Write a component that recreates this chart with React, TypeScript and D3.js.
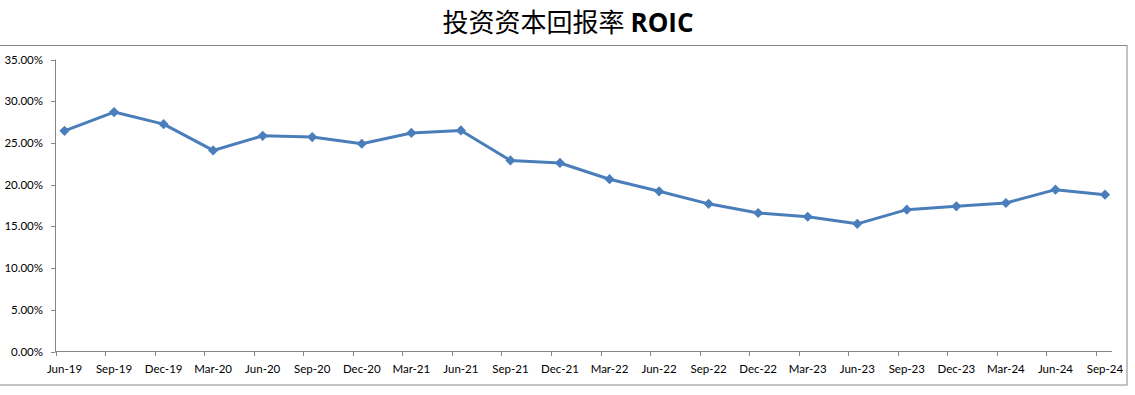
import React from "react";
import * as d3 from "d3";

const categories = ["Jun-19","Sep-19","Dec-19","Mar-20","Jun-20","Sep-20","Dec-20","Mar-21","Jun-21","Sep-21","Dec-21","Mar-22","Jun-22","Sep-22","Dec-22","Mar-23","Jun-23","Sep-23","Dec-23","Mar-24","Jun-24","Sep-24"];
const roic = [26.45,28.7,27.25,24.1,25.85,25.7,24.9,26.2,26.5,22.9,22.6,20.65,19.2,17.7,16.6,16.15,15.3,17.0,17.4,17.8,19.4,18.8];
const yTicks = [0,5,10,15,20,25,30,35];
const title = "投资资本回报率";
const titleLatin = "ROIC";

const W = 1135, H = 395;
const font = "Lato, 'Open Sans', sans-serif";

export default function App() {
  const y = d3.scaleLinear().domain([0, 35]).range([351.5, 59.5]);
  const x = d3.scalePoint<string>().domain(categories).range([64.5, 1105]);
  const tickOffset = -9;
  const line = d3.line<number>().x((_, i) => x(categories[i])!).y(d => y(d));
  const diamond = d3.symbol().type(d3.symbolSquare).size(52)();
  const fmt = (v: number) => v.toFixed(2) + "%";
  const axisColor = "#868686";
  const blue = "#4a7ebb";
  return (
    <svg width={W} height={H} style={{ position: "absolute", left: 0, top: 0, background: "#fff" }}>
      <rect x={-2} y={45.5} width={1129} height={339.5} fill="none" stroke={axisColor} strokeWidth={1} />
      <text x={568} y={32} textAnchor="middle" fontSize={26} fill="#000">
        <tspan fontFamily="'Noto Sans CJK SC', sans-serif">{title}</tspan>
        <tspan fontFamily="'Open Sans', sans-serif" fontWeight="bold" dx={6}>{titleLatin}</tspan>
      </text>
      <line x1={55.5} x2={55.5} y1={y(35)} y2={y(0)} stroke={axisColor} />
      {yTicks.map(t => (
        <g key={t}>
          <line x1={51} x2={55.5} y1={Math.round(y(t)) + 0.5} y2={Math.round(y(t)) + 0.5} stroke={axisColor} />
          <text x={43} y={y(t)} dy="0.35em" textAnchor="end" fontSize={11.5} fontFamily={font} fill="#000">{fmt(t)}</text>
        </g>
      ))}
      <line x1={55} x2={1112} y1={351.5} y2={351.5} stroke={axisColor} />
      {categories.map(c => (
        <g key={c}>
          <line x1={Math.round(x(c)! + tickOffset) + 0.5} x2={Math.round(x(c)! + tickOffset) + 0.5} y1={351.5} y2={356} stroke={axisColor} />
          <text x={x(c)!} y={373} textAnchor="middle" fontSize={11.5} fontFamily={font} fill="#000">{c}</text>
        </g>
      ))}
      <path d={line(roic)!} fill="none" stroke={blue} strokeWidth={3} strokeLinejoin="round" />
      {roic.map((v, i) => (
        <path key={i} d={diamond!} transform={`translate(${x(categories[i])},${y(v)}) rotate(45)`} fill={blue} />
      ))}
    </svg>
  );
}
